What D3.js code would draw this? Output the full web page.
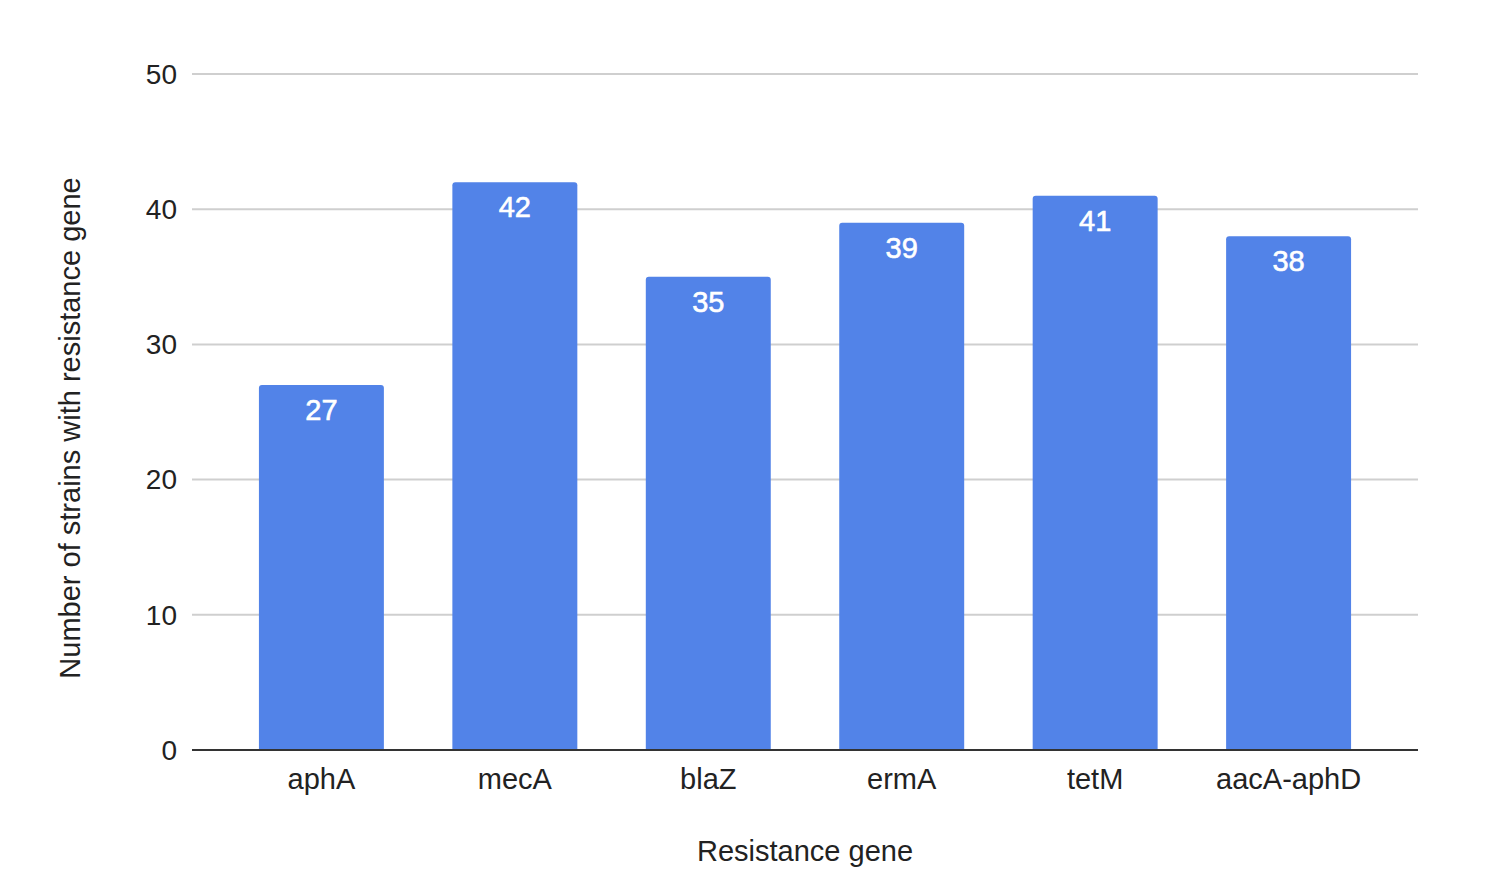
<!DOCTYPE html>
<html>
<head>
<meta charset="utf-8">
<script src="https://cdn.jsdelivr.net/npm/d3@7"></script>
<style>
  body { margin: 0; background: #fff; }
  text { font-family: "Liberation Sans", Arial, sans-serif; }
</style>
</head>
<body>
<svg id="chart" width="1500" height="886"></svg>
<script>
const genes = ["aphA", "mecA", "blaZ", "ermA", "tetM", "aacA-aphD"];
const strains = [27, 42, 35, 39, 41, 38];
const yTicks = [0, 10, 20, 30, 40, 50];

const margin = { top: 74, right: 82, bottom: 136, left: 192 };
const width = 1500, height = 886;
const innerWidth = width - margin.left - margin.right;
const innerHeight = height - margin.top - margin.bottom;

const svg = d3.select("#chart");
const g = svg.append("g").attr("transform", `translate(${margin.left},${margin.top})`);

const x = d3.scaleBand().domain(genes).range([0, innerWidth]).paddingInner(0.354).paddingOuter(0.346);
const y = d3.scaleLinear().domain([0, 50]).range([innerHeight, 0]);

// gridlines
g.selectAll(".grid")
  .data(yTicks.filter((d) => d > 0))
  .enter()
  .append("line")
  .attr("x1", 0)
  .attr("x2", innerWidth)
  .attr("y1", (d) => y(d))
  .attr("y2", (d) => y(d))
  .attr("stroke", "#cfcfcf")
  .attr("stroke-width", 2);

// y tick labels
g.selectAll(".ytick")
  .data(yTicks)
  .enter()
  .append("text")
  .attr("x", -15)
  .attr("y", (d) => y(d))
  .attr("dy", "0.35em")
  .attr("text-anchor", "end")
  .style("font-size", "28px")
  .style("fill", "#222")
  .text((d) => d);

// bars with rounded tops
const r = 3;
g.selectAll(".bar")
  .data(strains)
  .enter()
  .append("path")
  .attr("class", "bar")
  .attr("fill", "#5283e8")
  .attr("d", (d, i) => {
    const x0 = x(genes[i]), w = x.bandwidth(), y0 = y(d), b = y(0);
    return `M${x0},${b}V${y0 + r}Q${x0},${y0} ${x0 + r},${y0}H${x0 + w - r}Q${x0 + w},${y0} ${x0 + w},${y0 + r}V${b}Z`;
  });

// value labels
g.selectAll(".val")
  .data(strains)
  .enter()
  .append("text")
  .attr("x", (d, i) => x(genes[i]) + x.bandwidth() / 2)
  .attr("y", (d) => y(d) + 35)
  .attr("text-anchor", "middle")
  .style("font-size", "29px")
  .style("fill", "#fff")
  .style("stroke", "#fff")
  .style("stroke-width", 0.6)
  .text((d) => d);

// baseline
g.append("line")
  .attr("x1", 0)
  .attr("x2", innerWidth)
  .attr("y1", y(0))
  .attr("y2", y(0))
  .attr("stroke", "#333")
  .attr("stroke-width", 2);

// x labels
g.selectAll(".xlab")
  .data(genes)
  .enter()
  .append("text")
  .attr("x", (d) => x(d) + x.bandwidth() / 2)
  .attr("y", innerHeight + 39)
  .attr("text-anchor", "middle")
  .style("font-size", "29px")
  .style("fill", "#222")
  .text((d) => d);

// axis titles
svg.append("text")
  .attr("x", 805)
  .attr("y", 861)
  .attr("text-anchor", "middle")
  .style("font-size", "29px")
  .style("fill", "#222")
  .text("Resistance gene");

svg.append("text")
  .attr("transform", "translate(80,428) rotate(-90)")
  .attr("text-anchor", "middle")
  .style("font-size", "29px")
  .style("fill", "#222")
  .text("Number of strains with resistance gene");
</script>
</body>
</html>
